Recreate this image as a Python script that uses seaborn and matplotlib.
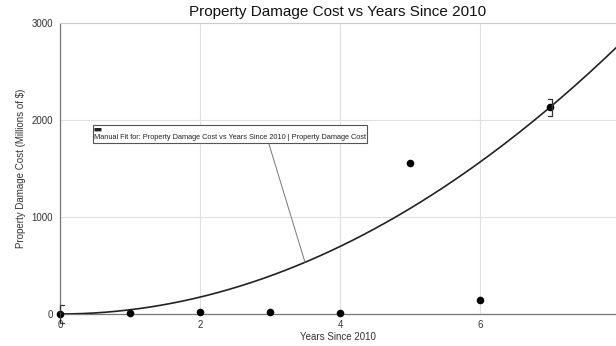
import numpy as np
import pandas as pd
import matplotlib
matplotlib.use("Agg")
import matplotlib.pyplot as plt
import seaborn as sns

# ---- data ----
years = [0, 1, 2, 3, 4, 5, 6, 7]
damage = [0, 8, 25, 25, 10, 1560, 140, 2130]
fit_coef = 43.5          # manual fit: y = A * x^2
fit_x = np.linspace(0, 8, 200)
err_years = [0, 7]
err_vals = [0, 2130]
err_half = 90
x_ticks = [0, 2, 4, 6]
y_ticks = [0, 1000, 2000, 3000]
title = "Property Damage Cost vs Years Since 2010"
xlabel = "Years Since 2010"
ylabel = "Property Damage Cost (Millions of $)"
annot_text = "Manual Fit for: Property Damage Cost vs Years Since 2010 | Property Damage Cost"

sns.set_style("white")
plt.rcParams['font.family'] = ['Liberation Sans', 'DejaVu Sans']

fig = plt.figure(figsize=(6.16, 3.46), dpi=100)
ax = fig.add_axes([60/616, 1-314/346, 1-60/616, (314-23)/346])

pts = pd.DataFrame({"x": years, "y": damage})
fit = pd.DataFrame({"x": fit_x, "y": fit_coef * fit_x**2})

sns.lineplot(data=fit, x="x", y="y", ax=ax, color="#222222", lw=1.2, zorder=3)
sns.scatterplot(data=pts, x="x", y="y", ax=ax, color="black", s=30,
                edgecolor="black", linewidth=0, zorder=4, clip_on=False)

# bracket-style error markers
for ex, ev in zip(err_years, err_vals):
    if ex == 0:
        bx, cap = ex + 0.005, 0.05
    else:
        bx, cap = ex + 0.03, -0.06
    ax.plot([bx + cap, bx, bx, bx + cap],
            [ev - err_half, ev - err_half, ev + err_half, ev + err_half],
            color="#333333", lw=0.9, zorder=4, clip_on=False)

ax.set_xlim(0, 556/70)
ax.set_ylim(0, 3000)
ax.set_xticks(x_ticks)
ax.set_xticks([1, 3, 5, 7], minor=True)
ax.set_yticks(y_ticks)
ax.set_yticks([v for v in range(0, 3001, 200) if v % 1000 != 0], minor=True)
ax.tick_params(axis="both", which="major", labelsize=7, colors="#333333",
               length=3, width=0.8, pad=2)
ax.tick_params(axis="both", which="minor", length=3, width=0.8, colors="#777777")
ax.tick_params(axis="x", which="both", direction="inout", length=5)

ax.grid(True, which="major", color="#e0e0e0", lw=0.8)
ax.set_axisbelow(True)
for s in ["left", "bottom"]:
    ax.spines[s].set_color("#777777")
    ax.spines[s].set_linewidth(0.9)
ax.spines["top"].set_color("#cccccc")
ax.spines["top"].set_linewidth(0.8)
ax.spines["right"].set_visible(False)

ax.set_xlabel(xlabel, fontsize=7, color="#333333", labelpad=1)
ax.set_ylabel(ylabel, fontsize=7, color="#333333", labelpad=4)
fig.text(338/616, 1-12/346, title, ha="center", va="center", fontsize=11, color="#111111")

# annotation
ann_x, ann_y = 3.5, fit_coef * 3.5**2
ax.annotate("\u25a0\u25a0\n" + annot_text, xy=(ann_x, ann_y), xytext=(94/616, 1-134/346),
            textcoords="figure fraction", fontsize=5.3, color="#222222",
            ha="left", va="center", linespacing=1.05,
            bbox=dict(boxstyle="square,pad=0.2", fc="white", ec="#555555", lw=0.8),
            arrowprops=dict(arrowstyle="-", color="#777777", lw=0.7,
                            shrinkA=0, shrinkB=0, relpos=(0.64, 0)),
            zorder=5)

fig.savefig("out.png", dpi=100)
